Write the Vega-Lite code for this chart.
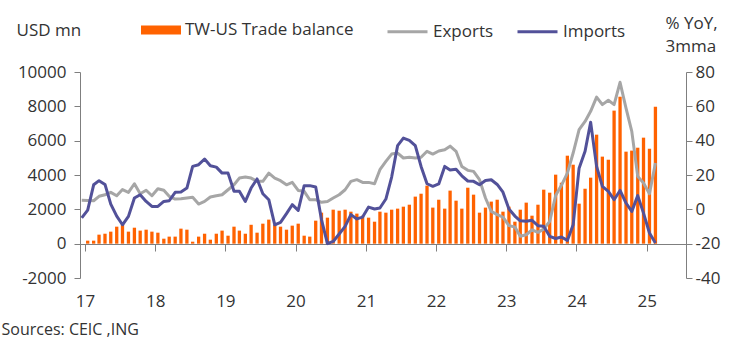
{
  "$schema": "https://vega.github.io/schema/vega-lite/v6.json",
  "width": 606,
  "height": 206,
  "autosize": "none",
  "padding": {"left": 80, "top": 72, "right": 58, "bottom": 65},
  "config": {
    "view": {"stroke": null},
    "font": "Open Sans",
    "axis": {"grid": false, "domainColor": "#7f7f7f", "tickColor": "#7f7f7f", "labelColor": "#333333", "labelFontSize": 17, "labelFont": "Open Sans", "titleFont": "Open Sans", "titleFontWeight": "normal", "titleColor": "#333333", "titleFontSize": 17},
    "legend": {"labelFont": "Open Sans", "labelFontSize": 17, "labelColor": "#333333", "labelLimit": 0}
  },
  "data": {"values": [
    {"date": "2016-12-15", "balance": null, "Exports": 5.3, "Imports": -5},
    {"date": "2017-01-15", "balance": 175, "Exports": 5.2, "Imports": -0.5},
    {"date": "2017-02-15", "balance": 175, "Exports": 5.0, "Imports": 14.3},
    {"date": "2017-03-15", "balance": 525, "Exports": 7.6, "Imports": 16.7},
    {"date": "2017-04-15", "balance": 580, "Exports": 8.5, "Imports": 14.5},
    {"date": "2017-05-15", "balance": 700, "Exports": 9.9, "Imports": 3},
    {"date": "2017-06-15", "balance": 990, "Exports": 7.9, "Imports": -4},
    {"date": "2017-07-15", "balance": 1185, "Exports": 11.5, "Imports": -9},
    {"date": "2017-08-15", "balance": 700, "Exports": 9.9, "Imports": -4.1},
    {"date": "2017-09-15", "balance": 930, "Exports": 14.9, "Imports": 6.6},
    {"date": "2017-10-15", "balance": 760, "Exports": 9.1, "Imports": 8.5},
    {"date": "2017-11-15", "balance": 815, "Exports": 11.1, "Imports": 4.6},
    {"date": "2017-12-15", "balance": 700, "Exports": 7.9, "Imports": 1.7},
    {"date": "2018-01-15", "balance": 640, "Exports": 12, "Imports": 1.7},
    {"date": "2018-02-15", "balance": 290, "Exports": 11.1, "Imports": 4.6},
    {"date": "2018-03-15", "balance": 410, "Exports": 7.6, "Imports": 5},
    {"date": "2018-04-15", "balance": 410, "Exports": 6, "Imports": 9.9},
    {"date": "2018-05-15", "balance": 875, "Exports": 6.2, "Imports": 10.1},
    {"date": "2018-06-15", "balance": 815, "Exports": 6.6, "Imports": 12.4},
    {"date": "2018-07-15", "balance": 115, "Exports": 7, "Imports": 25},
    {"date": "2018-08-15", "balance": 410, "Exports": 3.1, "Imports": 26},
    {"date": "2018-09-15", "balance": 580, "Exports": 4.6, "Imports": 29.3},
    {"date": "2018-10-15", "balance": 233, "Exports": 7.2, "Imports": 25.4},
    {"date": "2018-11-15", "balance": 580, "Exports": 7.9, "Imports": 24.6},
    {"date": "2018-12-15", "balance": 760, "Exports": 8.5, "Imports": 21.1},
    {"date": "2019-01-15", "balance": 465, "Exports": 11.4, "Imports": 21.1},
    {"date": "2019-02-15", "balance": 990, "Exports": 14.3, "Imports": 10.5},
    {"date": "2019-03-15", "balance": 760, "Exports": 18.2, "Imports": 10.5},
    {"date": "2019-04-15", "balance": 580, "Exports": 18.8, "Imports": 4.6},
    {"date": "2019-05-15", "balance": 1100, "Exports": 18.2, "Imports": 12.4},
    {"date": "2019-06-15", "balance": 640, "Exports": 16.3, "Imports": 17.7},
    {"date": "2019-07-15", "balance": 1165, "Exports": 16.3, "Imports": 9.1},
    {"date": "2019-08-15", "balance": 1400, "Exports": 21.1, "Imports": 5.6},
    {"date": "2019-09-15", "balance": 1100, "Exports": 18.2, "Imports": -9},
    {"date": "2019-10-15", "balance": 990, "Exports": 16.7, "Imports": -7.6},
    {"date": "2019-11-15", "balance": 815, "Exports": 14.3, "Imports": -2.5},
    {"date": "2019-12-15", "balance": 1050, "Exports": 15.7, "Imports": 2.7},
    {"date": "2020-01-15", "balance": 1165, "Exports": 11, "Imports": -0.6},
    {"date": "2020-02-15", "balance": 465, "Exports": 10.5, "Imports": 13.8},
    {"date": "2020-03-15", "balance": 410, "Exports": 5.6, "Imports": 13.8},
    {"date": "2020-04-15", "balance": 1340, "Exports": 5.6, "Imports": 13},
    {"date": "2020-05-15", "balance": 1806, "Exports": 4.1, "Imports": -6},
    {"date": "2020-06-15", "balance": 1515, "Exports": 4.6, "Imports": -20},
    {"date": "2020-07-15", "balance": 1980, "Exports": 6.6, "Imports": -18.7},
    {"date": "2020-08-15", "balance": 1920, "Exports": 8.5, "Imports": -14.4},
    {"date": "2020-09-15", "balance": 1980, "Exports": 11.4, "Imports": -9.9},
    {"date": "2020-10-15", "balance": 1864, "Exports": 16.3, "Imports": -3.1},
    {"date": "2020-11-15", "balance": 1750, "Exports": 17.3, "Imports": -5.6},
    {"date": "2020-12-15", "balance": 1630, "Exports": 15.7, "Imports": -4.5},
    {"date": "2021-01-15", "balance": 1515, "Exports": 15.7, "Imports": 1.3},
    {"date": "2021-02-15", "balance": 1280, "Exports": 14.9, "Imports": 0.2},
    {"date": "2021-03-15", "balance": 1864, "Exports": 23.1, "Imports": 0.8},
    {"date": "2021-04-15", "balance": 1806, "Exports": 27.9, "Imports": 6},
    {"date": "2021-05-15", "balance": 1980, "Exports": 32.2, "Imports": 18.8},
    {"date": "2021-06-15", "balance": 2040, "Exports": 32.8, "Imports": 37.1},
    {"date": "2021-07-15", "balance": 2155, "Exports": 29.9, "Imports": 41.5},
    {"date": "2021-08-15", "balance": 2270, "Exports": 30.3, "Imports": 40.2},
    {"date": "2021-09-15", "balance": 2740, "Exports": 29.9, "Imports": 37.1},
    {"date": "2021-10-15", "balance": 2910, "Exports": 30.3, "Imports": 25},
    {"date": "2021-11-15", "balance": 3380, "Exports": 33.8, "Imports": 14.9},
    {"date": "2021-12-15", "balance": 2100, "Exports": 32.2, "Imports": 13.4},
    {"date": "2022-01-15", "balance": 2560, "Exports": 34, "Imports": 14.8},
    {"date": "2022-02-15", "balance": 2040, "Exports": 34.7, "Imports": 25},
    {"date": "2022-03-15", "balance": 3090, "Exports": 36.8, "Imports": 22.9},
    {"date": "2022-04-15", "balance": 2505, "Exports": 33.8, "Imports": 23.3},
    {"date": "2022-05-15", "balance": 2040, "Exports": 25, "Imports": 19.5},
    {"date": "2022-06-15", "balance": 3260, "Exports": 22.7, "Imports": 16.5},
    {"date": "2022-07-15", "balance": 2855, "Exports": 22.1, "Imports": 16.3},
    {"date": "2022-08-15", "balance": 1806, "Exports": 17.3, "Imports": 14.3},
    {"date": "2022-09-15", "balance": 2100, "Exports": 6.6, "Imports": 16.8},
    {"date": "2022-10-15", "balance": 2450, "Exports": -1.2, "Imports": 17.2},
    {"date": "2022-11-15", "balance": 2560, "Exports": -3.1, "Imports": 14.5},
    {"date": "2022-12-15", "balance": 1864, "Exports": -4.5, "Imports": 10},
    {"date": "2023-01-15", "balance": 2155, "Exports": -9.5, "Imports": 0.2},
    {"date": "2023-02-15", "balance": 1280, "Exports": -10.3, "Imports": -3.9},
    {"date": "2023-03-15", "balance": 1980, "Exports": -15.7, "Imports": -6.7},
    {"date": "2023-04-15", "balance": 2390, "Exports": -14.8, "Imports": -7},
    {"date": "2023-05-15", "balance": 1630, "Exports": -11.9, "Imports": -6.4},
    {"date": "2023-06-15", "balance": 2270, "Exports": -13.4, "Imports": -9.5},
    {"date": "2023-07-15", "balance": 3145, "Exports": -11.5, "Imports": -9.9},
    {"date": "2023-08-15", "balance": 2970, "Exports": -7, "Imports": -15.7},
    {"date": "2023-09-15", "balance": 4020, "Exports": 8, "Imports": -17},
    {"date": "2023-10-15", "balance": 3550, "Exports": 14, "Imports": -16.1},
    {"date": "2023-11-15", "balance": 5125, "Exports": 21.1, "Imports": -18.1},
    {"date": "2023-12-15", "balance": 4600, "Exports": 32.8, "Imports": -9},
    {"date": "2024-01-15", "balance": 2330, "Exports": 46.4, "Imports": 24},
    {"date": "2024-02-15", "balance": 3200, "Exports": 51.2, "Imports": 33.8},
    {"date": "2024-03-15", "balance": 3845, "Exports": 57.1, "Imports": 50.7},
    {"date": "2024-04-15", "balance": 6350, "Exports": 65.4, "Imports": 25},
    {"date": "2024-05-15", "balance": 5070, "Exports": 61, "Imports": 13.4},
    {"date": "2024-06-15", "balance": 4890, "Exports": 63.5, "Imports": 10.5},
    {"date": "2024-07-15", "balance": 7750, "Exports": 61, "Imports": 5.6},
    {"date": "2024-08-15", "balance": 8560, "Exports": 74, "Imports": 11},
    {"date": "2024-09-15", "balance": 5360, "Exports": 59, "Imports": 3.7},
    {"date": "2024-10-15", "balance": 5420, "Exports": 45.4, "Imports": -1.2},
    {"date": "2024-11-15", "balance": 5590, "Exports": 19.2, "Imports": 8},
    {"date": "2024-12-15", "balance": 6175, "Exports": 15.3, "Imports": -2.2},
    {"date": "2025-01-15", "balance": 5530, "Exports": 9.1, "Imports": -13.8},
    {"date": "2025-02-15", "balance": 7980, "Exports": 27, "Imports": -19.6}
  ]},
  "encoding": {
    "x": {
      "field": "date", "type": "temporal",
      "scale": {"type": "utc", "domain": [{"year": 2017, "month": 1, "date": 1, "utc": true}, {"year": 2025, "month": 6, "date": 28, "utc": true}]},
      "axis": {
        "orient": "bottom", "offset": -34,
        "values": [
          {"year": 2017, "month": 1, "date": 1, "utc": true},
          {"year": 2018, "month": 1, "date": 1, "utc": true},
          {"year": 2019, "month": 1, "date": 1, "utc": true},
          {"year": 2020, "month": 1, "date": 1, "utc": true},
          {"year": 2021, "month": 1, "date": 1, "utc": true},
          {"year": 2022, "month": 1, "date": 1, "utc": true},
          {"year": 2023, "month": 1, "date": 1, "utc": true},
          {"year": 2024, "month": 1, "date": 1, "utc": true},
          {"year": 2025, "month": 1, "date": 1, "utc": true}
        ],
        "labelExpr": "utcFormat(datum.value, '%y')",
        "tickSize": 7, "labelPadding": 42, "labelDx": 2, "labelFlush": false, "labelOverlap": false,
        "title": "Sources: CEIC ,ING", "titleAnchor": "start", "titleAlign": "left",
        "titleX": -79, "titleY": 85, "titleBaseline": "middle", "titleFontSize": 16
      }
    }
  },
  "layer": [
    {
      "mark": {"type": "bar", "size": 3.3},
      "encoding": {
        "y": {
          "field": "balance", "type": "quantitative",
          "scale": {"domain": [-2000, 10000], "nice": false},
          "axis": {
            "orient": "left", "values": [-2000, 0, 2000, 4000, 6000, 8000, 10000],
            "labelExpr": "datum.value < 0 ? '-' + abs(datum.value) : '' + datum.value",
            "tickSize": 6, "labelPadding": 8,
            "title": "USD mn", "titleAngle": 0, "titleAlign": "left", "titleBaseline": "middle",
            "titleX": -64, "titleY": -42
          }
        },
        "color": {
          "datum": "TW-US Trade balance", "type": "nominal",
          "scale": {"range": ["#FF6200"]},
          "legend": {
            "orient": "none", "legendX": 61, "legendY": -62, "title": null,
            "symbolType": "M-1,-0.23H1V0.23H-1Z", "symbolSize": 1600, "symbolStrokeWidth": 0,
            "labelOffset": 4, "padding": 0, "labelLimit": 0
          }
        }
      }
    },
    {
      "transform": [{"fold": ["Exports", "Imports"], "as": ["series", "pct"]}],
      "mark": {"type": "line", "strokeWidth": 3, "clip": true, "strokeJoin": "round"},
      "encoding": {
        "y": {
          "field": "pct", "type": "quantitative",
          "scale": {"domain": [-40, 80], "nice": false, "zero": false},
          "axis": {
            "orient": "right", "values": [-40, -20, 0, 20, 40, 60, 80],
            "labelExpr": "datum.value < 0 ? '-' + abs(datum.value) : '' + datum.value",
            "tickSize": 6, "labelPadding": 3,
            "title": ["% YoY,", "3mma"], "titleAngle": 0, "titleAlign": "left", "titleBaseline": "alphabetic",
            "titleX": -21, "titleY": -44, "titleLineHeight": 23
          }
        },
        "stroke": {
          "field": "series", "type": "nominal",
          "scale": {"domain": ["Exports", "Imports"], "range": ["#A6A6A6", "#525199"]},
          "legend": {
            "orient": "none", "legendX": 306, "legendY": -62, "direction": "horizontal", "title": null,
            "symbolType": "stroke", "symbolSize": 1600, "symbolStrokeWidth": 3,
            "labelOffset": 4, "columnPadding": 17, "padding": 0
          }
        }
      }
    }
  ],
  "resolve": {"scale": {"y": "independent"}}
}
